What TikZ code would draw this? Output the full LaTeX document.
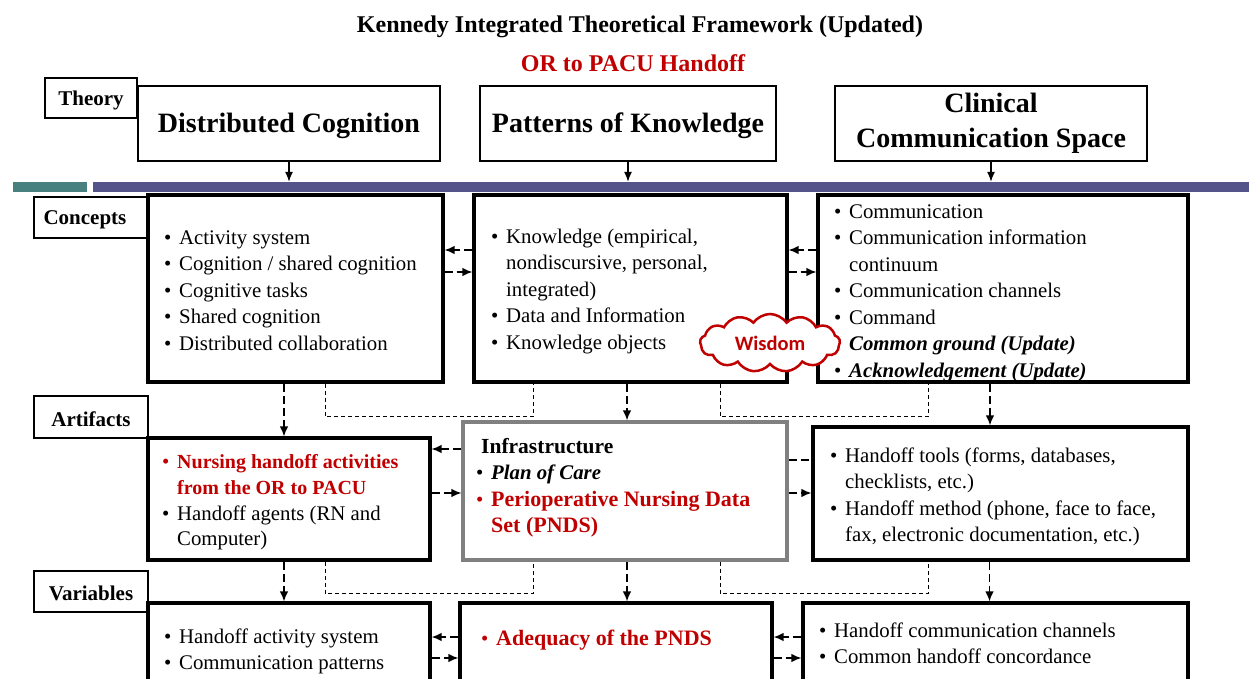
\documentclass[tikz,border=0pt]{standalone}
\usepackage{fontspec}
\setmainfont{Liberation Serif}
\newfontfamily\cloudfont{Carlito}
\usetikzlibrary{positioning}
\usetikzlibrary{fit}
\usetikzlibrary{calc}
\usetikzlibrary{arrows.meta}
\usetikzlibrary{shapes.symbols}
\definecolor{handred}{RGB}{192,0,0}
\definecolor{barblue}{RGB}{84,84,138}
\definecolor{barteal}{RGB}{72,128,128}
\newcommand{\bmark}{\makebox[15pt][l]{\textbullet}}
\newcommand{\rmark}{\makebox[15pt][l]{\textcolor{handred}{\textbullet}}}
\newcommand{\bskip}{\hspace*{15pt}}
\newcommand{\redbf}[1]{\textcolor{handred}{\textbf{#1}}}
\tikzset{
  LabelBox/.style={draw,line width=1.3pt,inner sep=0pt},
  LabelText/.style={inner sep=0pt,font=\bfseries\fontsize{21}{24}\selectfont},
  TheoryBox/.style={draw,line width=1.5pt,inner sep=0pt},
  TheoryText/.style={inner sep=0pt,align=center,font=\bfseries\fontsize{28}{35}\selectfont},
  MainBox/.style={draw,line width=3.2pt,inner sep=0pt},
  InfraBox/.style={draw=gray,line width=3.2pt,inner sep=0pt},
  BoxText/.style={anchor=north west,inner sep=0pt,align=left,font=\fontsize{20.8}{26.5}\selectfont},
  DownArrow/.style={line width=1.5pt,dash pattern=on 8pt off 4pt,-{Latex[length=10pt,width=8.5pt]}},
  FlowArrow/.style={line width=1.5pt,dash pattern=on 8pt off 4pt,-{Latex[length=10pt,width=8.5pt]}},
  FlowLine/.style={line width=1.5pt,dash pattern=on 8pt off 4pt},
  LinkLine/.style={line width=0.9pt,dash pattern=on 4pt off 3pt},
  TheoryArrow/.style={line width=1.3pt,-{Latex[length=10pt,width=8pt]}}
}

\begin{document}
\begin{tikzpicture}[x=1pt,y=-1pt]
  \clip (0,0) rectangle (1249,679);
  \node[font=\bfseries\fontsize{24}{28}\selectfont] (title) at (640,27) {Kennedy Integrated Theoretical Framework (Updated)};
  \node[font=\bfseries\fontsize{24}{28}\selectfont,text=handred] (subtitle) at (633,63) {OR to PACU Handoff};

  \node[LabelBox,fit={(45,78) (137,118)}] (ltheory) {};
  \node[LabelText] (ttheory) at ($(ltheory.center)+(0,2)$) {Theory};
  \node[TheoryBox,fit={(138,86) (440,161)}] (tdc) {};
  \node[TheoryText] (tdctext) at ($(tdc.center)+(0,2)$) {Distributed Cognition};
  \node[TheoryBox,fit={(480,86) (776,161)}] (tpk) {};
  \node[TheoryText] (tpktext) at ($(tpk.center)+(0,2)$) {Patterns of Knowledge};
  \node[TheoryBox,fit={(835,86) (1147,161)}] (tcc) {};
  \node[TheoryText] (tcctext) at (tcc.center) {Clinical\\Communication Space};

  \node[fill=barteal,inner sep=0pt,fit={(13,182) (87,192)}] (barl) {};
  \node[fill=barblue,inner sep=0pt,fit={(93,182) (1260,192)}] (bar) {};
  \draw[TheoryArrow] (tdc.south) -- (tdc.south |- bar.north);
  \draw[TheoryArrow] (tpk.south) -- (tpk.south |- bar.north);
  \draw[TheoryArrow] (tcc.south) -- (tcc.south |- bar.north);

  \node[LabelBox,fit={(34,197) (148,238)}] (lconcepts) {};
  \node[LabelText] (tconcepts) at ($(lconcepts.center)+(-6,2)$) {Concepts};
  \node[MainBox,fit={(148,195) (443,382)}] (cl) {};
  \node[MainBox,fit={(474,195) (787,382)}] (cm) {};
  \node[MainBox,fit={(818,195) (1188,382)}] (cr) {};

  \node[LabelBox,fit={(34,396) (148,438)}] (lartifacts) {};
  \node[LabelText] (tartifacts) at ($(lartifacts.center)+(0,2)$) {Artifacts};
  \node[MainBox,fit={(148,438) (430,560)}] (al) {};
  \node[InfraBox,fit={(463,422) (787,560)}] (ai) {};
  \node[MainBox,fit={(813,427) (1188,560)}] (ar) {};

  \node[LabelBox,fit={(34,571) (148,612)}] (lvariables) {};
  \node[LabelText] (tvariables) at ($(lvariables.center)+(0,2)$) {Variables};
  \node[MainBox,fit={(148,603) (430,760)}] (vl) {};
  \node[MainBox,fit={(460,603) (772,760)}] (vm) {};
  \node[MainBox,fit={(803,603) (1188,760)}] (vr) {};

  \node[BoxText] (cltext) at (164,225.5) {\strut\bmark Activity system\\
    \bmark Cognition / shared cognition\\ \bmark Cognitive tasks\\
    \bmark Shared cognition\\ \bmark Distributed collaboration};
  \node[BoxText] (cmtext) at (491,224.5) {\strut\bmark Knowledge (empirical,\\
    \bskip nondiscursive, personal,\\ \bskip integrated)\\
    \bmark Data and Information\\ \bmark Knowledge objects};
  \node[BoxText] (crtext) at (834,199.5) {\strut\bmark Communication\\
    \bmark Communication information\\ \bskip continuum\\
    \bmark Communication channels\\ \bmark Command\\
    \bskip\textbf{\textit{Common ground (Update)}}\\
    \bmark\textbf{\textit{Acknowledgement (Update)}}};

  \node[BoxText,font=\fontsize{20.8}{25.7}\selectfont] (altext) at (162,450.5) {\strut\rmark\redbf{\fontsize{20}{25.7}\selectfont Nursing handoff activities}\\
    \bskip\redbf{\fontsize{20}{25.7}\selectfont from the OR to PACU}\\
    \bmark Handoff agents (RN and\\ \bskip Computer)};
  \node[BoxText] (aitext) at (476,434.5) {\strut\hspace*{5pt}\textbf{\fontsize{21.5}{26.5}\selectfont Infrastructure}\\
    \bmark\textbf{\textit{Plan of Care}}\\
    \rmark\redbf{\fontsize{22}{26.5}\selectfont Perioperative Nursing Data}\\
    \bskip\redbf{\fontsize{22}{26.5}\selectfont Set (PNDS)}};
  \node[BoxText] (artext) at (830,443.5) {\strut\bmark Handoff tools (forms, databases,\\
    \bskip checklists, etc.)\\
    \bmark Handoff method (phone, face to face,\\
    \bskip fax, electronic documentation, etc.)};

  \node[BoxText] (vltext) at (164,624.5) {\strut\bmark Handoff activity system\\
    \bmark Communication patterns};
  \node[BoxText] (vmtext) at (481,626.5) {\strut\rmark\redbf{\fontsize{22}{26.5}\selectfont Adequacy of the PNDS}};
  \node[BoxText] (vrtext) at (819,618.5) {\strut\bmark Handoff communication channels\\
    \bmark Common handoff concordance};

  \draw[FlowArrow] ($(cm.west)+(0,-38.5)$) -- ($(cl.east)+(0,-38.5)$);
  \draw[FlowArrow] ($(cl.east)+(0,-16.5)$) -- ($(cm.west)+(0,-16.5)$);
  \draw[FlowArrow] ($(cr.west)+(0,-38.5)$) -- ($(cm.east)+(0,-38.5)$);
  \draw[FlowArrow] ($(cm.east)+(0,-16.5)$) -- ($(cr.west)+(0,-16.5)$);

  \draw[FlowArrow] ($(ai.west)+(0,-42)$) -- ($(al.east)+(0,-50)$);
  \draw[FlowArrow] ($(al.east)+(0,-6)$) -- ($(ai.west)+(0,2)$);
  \draw[FlowLine] ($(ai.east)+(0,-31)$) -- ($(ar.west)+(0,-33.5)$);
  \draw[FlowArrow] ($(ai.east)+(0,2)$) -- ($(ar.west)+(0,-0.5)$);

  \draw[FlowArrow] ($(vm.west)+(0,-44.5)$) -- ($(vl.east)+(0,-44.5)$);
  \draw[FlowArrow] ($(vl.east)+(0,-23.5)$) -- ($(vm.west)+(0,-23.5)$);
  \draw[FlowArrow] ($(vr.west)+(0,-44.5)$) -- ($(vm.east)+(0,-44.5)$);
  \draw[FlowArrow] ($(vm.east)+(0,-23.5)$) -- ($(vr.west)+(0,-23.5)$);

  \draw[DownArrow] ($(cl.south)+(-11.5,0)$) -- ($(cl.south |- al.north)+(-11.5,0)$);
  \draw[DownArrow] ($(cm.south)+(-3.5,0)$) -- ($(cm.south |- ai.north)+(-3.5,0)$);
  \draw[DownArrow] ($(cr.south)+(-13,0)$) -- ($(cr.south |- ar.north)+(-13,0)$);
  \draw[DownArrow] ($(al.south)+(-5,0)$) -- ($(al.south |- vl.north)+(-5,0)$);
  \draw[DownArrow] ($(ai.south)+(2,0)$) -- ($(ai.south |- vm.north)+(2,0)$);
  \draw[DownArrow] ($(ar.south)+(-11,0)$) -- ($(ar.south |- vr.north)+(-11,0)$);

  \draw[LinkLine] ($(cl.south)+(29.5,0)$) -- ++(0,33) -| ($(cm.south)+(-97.5,0)$);
  \draw[LinkLine] ($(cm.south)+(89.5,0)$) -- ++(0,33) -| ($(cr.south)+(-75,0)$);
  \draw[LinkLine] ($(al.south)+(36,0)$) -- ++(0,32) -| ($(ai.south)+(-92,0)$);
  \draw[LinkLine] ($(ai.south)+(95,0)$) -- ++(0,32) -| ($(ar.south)+(-72.5,0)$);

  \node[cloud,cloud puffs=13,cloud puff arc=110,aspect=2.4,draw=handred,line width=2.5pt,fill=white,
    minimum width=140pt,minimum height=58pt,inner sep=0pt,
    font=\cloudfont\bfseries\fontsize{20.5}{22}\selectfont,text=handred] (wisdom) at (770,343) {Wisdom};
\end{tikzpicture}
\end{document}
